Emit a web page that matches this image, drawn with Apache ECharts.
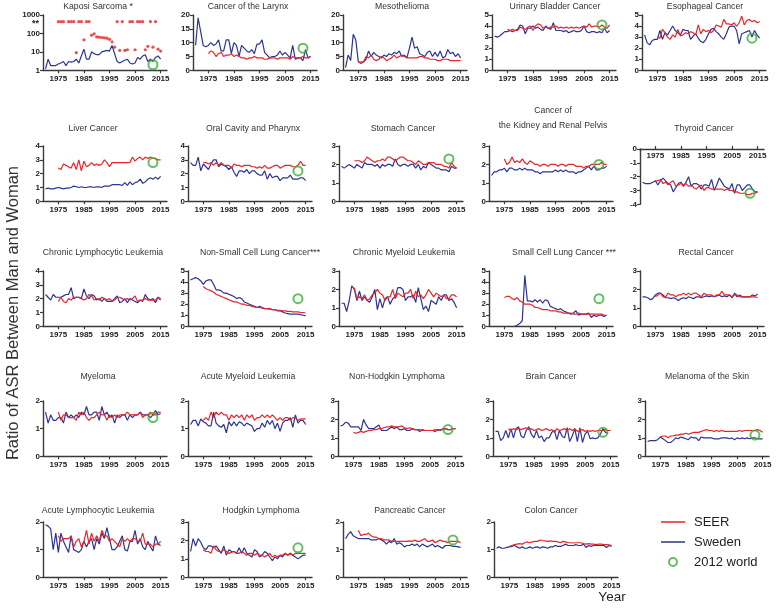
<!DOCTYPE html>
<html><head><meta charset="utf-8">
<script src="https://cdn.jsdelivr.net/npm/echarts@6/dist/echarts.min.js"></script>
<style>html,body{margin:0;padding:0;background:#fff}#c{width:778px;height:608px}</style>
</head><body><div id="c"></div>
<script>
// ---------- DATA ----------
const yearsSweden = [1970,1971,1972,1973,1974,1975,1976,1977,1978,1979,1980,1981,1982,1983,1984,1985,1986,1987,1988,1989,1990,1991,1992,1993,1994,1995,1996,1997,1998,1999,2000,2001,2002,2003,2004,2005,2006,2007,2008,2009,2010,2011,2012,2013,2014,2015];
const yearsSeer = [1975,1976,1977,1978,1979,1980,1981,1982,1983,1984,1985,1986,1987,1988,1989,1990,1991,1992,1993,1994,1995,1996,1997,1998,1999,2000,2001,2002,2003,2004,2005,2006,2007,2008,2009,2010,2011,2012,2013,2014,2015];
const worldYear = 2012;
const xTickYears = [1975,1985,1995,2005,2015];
const STAR = 437; // level at which the "**" (off-scale) values are plotted

const kaposiSweden = [1.2,4,1.8,1.8,1.8,2.2,2.5,3,1.8,3, 2.8,3,4,2.5,6,14,4,4,10,8, 7,7,10,11,12,11,22,8,3,2.5, 3,3.5,4,2.5,2.2,2.5,5,4,6,7, 3,4,3,5,6,4];
const kaposiSeer = [STAR,STAR,STAR,null,STAR,STAR,STAR,9,STAR,STAR, 45,STAR,STAR,80,95,65,63,60,58,55, 48,35,18,STAR,12,STAR,12,13,STAR,STAR, 13,STAR,STAR,STAR,13,20,STAR,18,STAR,14, 11];
const larynxSweden = [9,19,14,9,8.5,9,10,9,9.5,11, 7,7,11,11,6,10,9,5,9,8, 7,6.5,7.5,6,9.5,9.5,11,6.5,5.5,4.5, 5,5,5.5,7,5.5,6.5,5.5,4.5,9,4, 4.5,4.5,3.5,7.5,4.5,5];
const larynxSeer = [6,7,6.5,5,6,6.5,5,5.5,5.5,6, 5,5.5,5,4.5,4.5,4,4.5,4.5,5,4.5, 4.5,4.5,4,4,4.5,4.5,4.5,4,4.5,4.5, 4.5,4.5,4,5,4.5,4.5,4.5,5,4.5,4.5, 5];
const mesoSweden = [1,5.5,3.5,13,11,3,3,3,4,7, 5,6.5,5.5,5,4.5,5.5,5,6,5.5,6.5, 6,7,5,5.5,4.5,8,12,8,8.5,6, 5.5,5,6.5,7,5,6.5,5,7,4.5,5, 7.5,6,6.5,5,6,4.5];
const mesoSeer = [3,2.5,3,5,4.5,5.5,4,3.5,4,5, 4.5,3.5,4,4.5,5.5,4.5,5,5.5,5,4.5, 4.5,4.5,4.5,4.5,5,5,4.5,4.5,4,4, 4,3.5,3.5,4,4,4,3.5,3.5,3.5,3.5, 3.5];
const bladderSweden = [3.1,3.0,3.1,3.3,3.5,3.5,3.6,3.5,3.6,3.7, 4.1,4.0,3.3,3.8,3.8,4.0,3.8,3.9,3.7,3.6, 4.0,3.8,3.7,4.3,3.6,3.6,3.6,3.5,3.6,3.4, 3.5,3.6,3.5,3.5,3.6,4.0,3.5,3.4,3.5,3.5, 3.4,3.5,3.4,3.8,3.4,3.6];
const bladderSeer = [3.7,3.6,3.7,3.6,3.6,3.9,3.8,3.7,3.9,4.0, 3.6,4.0,4.2,4.1,3.8,3.9,3.8,3.9,3.9,4.0, 3.8,3.9,3.8,3.9,3.8,3.9,3.8,3.9,3.8,3.9, 4.0,3.9,4.2,3.9,4.0,4.0,3.9,4.1,3.9,3.8, 4.1];
const esophSweden = [3.2,2.5,2.3,2.7,2.8,2.8,3.6,2.8,3.4,3.2, 3.6,4.0,3.6,3.4,3.2,3.7,3.6,3.6,2.8,3.1, 3.3,2.9,2.6,2.5,2.8,3.3,3.7,3.8,3.5,3.3, 3.0,2.8,3.3,3.9,4.0,4.0,3.6,2.4,3.3,3.4, 3.5,3.6,3.0,3.6,3.2,2.9];
const esophSeer = [3.0,2.9,3.7,3.4,3.0,2.8,3.2,3.0,3.7,3.1, 3.2,3.4,3.3,3.5,3.4,3.2,4.1,3.3,3.7,3.5, 3.6,3.4,3.6,4.1,4.0,3.9,4.6,4.2,4.2,4.1, 4.3,4.0,4.3,4.9,4.1,4.5,4.6,4.4,4.5,4.3, 4.4];
const liverSweden = [0.9,0.95,0.9,0.9,0.95,1.0,0.95,0.9,0.95,0.95, 1.0,1.1,1.05,1.0,1.05,1.0,1.0,1.05,1.05,1.0, 1.05,1.05,1.0,1.1,1.1,1.1,1.2,1.2,1.2,1.2, 1.15,1.35,1.15,1.4,1.2,1.35,1.4,1.6,1.3,1.4, 1.6,1.7,1.6,1.75,1.6,1.8];
const liverSeer = [2.4,2.3,2.7,2.6,2.5,2.4,2.8,2.3,3.0,2.2, 2.9,2.5,2.6,2.8,2.6,2.7,2.6,2.7,3.0,2.8, 2.5,2.8,2.8,2.8,2.8,2.8,2.8,2.8,2.8,3.2, 2.9,3.1,3.2,3.0,3.2,3.1,3.2,3.1,3.1,3.0, 3.0];
const oralSweden = [2.8,2.6,2.6,3.2,2.2,2.7,2.5,2.3,2.7,3.0, 3.0,2.5,2.7,2.6,2.5,2.3,2.5,2.1,1.8,2.2, 2.2,2.1,2.3,2.0,2.2,2.2,2.0,1.9,1.9,2.2, 1.6,2.0,1.7,1.8,1.8,1.5,1.7,1.7,1.7,1.9, 1.6,1.6,1.6,1.7,1.7,1.5];
const oralSeer = [2.8,2.8,2.7,2.8,2.6,2.8,2.6,2.8,2.6,2.6, 2.6,2.4,2.7,2.6,2.6,2.5,2.6,2.6,2.6,2.5, 2.5,2.4,2.5,2.4,2.6,2.4,2.4,2.5,2.6,2.6, 2.4,2.5,2.6,2.6,2.6,2.5,2.5,2.6,2.9,2.6, 2.6];
const stomachSweden = [1.9,1.8,1.9,2.0,1.9,1.8,2.0,1.9,1.8,2.1, 2.0,2.0,2.0,1.9,2.0,1.8,2.0,1.9,2.0,2.0, 1.9,2.3,2.0,1.9,2.0,2.0,1.9,2.0,2.0,1.8, 2.0,1.7,1.9,1.8,2.1,2.0,1.9,1.8,1.8,1.7, 1.7,1.7,1.6,1.9,1.8,1.8];
const stomachSeer = [2.2,2.2,2.2,2.1,2.2,2.4,2.3,2.2,2.1,2.2, 2.2,2.3,2.2,2.4,2.4,2.3,2.2,2.3,2.4,2.4, 2.3,2.2,2.2,2.1,2.0,2.2,2.1,2.0,2.0,2.1, 2.1,2.1,2.0,2.0,2.0,1.9,1.9,1.8,2.1,1.9, 1.8];
const kidneySweden = [1.4,1.6,1.6,1.7,1.7,1.8,1.6,1.8,1.8,1.7, 1.7,1.8,1.7,1.8,1.7,1.7,1.7,1.6,1.6,1.5, 1.6,1.6,1.6,1.6,1.6,1.7,1.6,1.7,1.6,1.7, 1.6,1.6,1.6,1.5,1.6,1.6,1.7,1.8,1.9,1.7, 1.9,1.7,1.7,1.8,1.8,1.9];
const kidneySeer = [2.3,2.0,2.1,2.4,2.1,2.2,2.1,2.3,2.1,2.0, 2.2,2.1,2.0,2.0,1.9,2.0,2.0,1.9,2.0,2.0, 2.0,1.9,2.0,2.0,1.9,2.0,2.0,2.0,1.9,1.9, 1.9,1.8,1.9,1.9,2.0,2.0,2.0,2.0,2.1,2.0, 2.0];
const thyroidSweden = [-2.4,-2.5,-2.5,-2.5,-2.4,-2.3,-2.6,-2.3,-2.1,-2.3, -2.5,-2.6,-3.1,-2.8,-2.5,-2.4,-2.7,-2.4,-2.0,-2.7, -2.5,-2.5,-2.6,-2.9,-2.6,-2.6,-2.7,-2.2,-3.0,-2.6, -2.1,-2.4,-2.7,-2.8,-2.9,-2.5,-3.2,-2.6,-2.6,-3.0, -2.8,-2.6,-2.6,-2.9,-3.1,-3.1];
const thyroidSeer = [-2.3,-2.3,-2.2,-2.5,-2.4,-2.6,-2.4,-2.3,-2.7,-2.6, -2.5,-2.6,-2.5,-2.7,-2.6,-2.8,-2.9,-2.7,-2.6,-3.0, -2.8,-2.8,-2.9,-2.9,-2.9,-2.9,-2.9,-3.0,-2.9,-3.0, -3.0,-3.1,-3.1,-3.2,-3.2,-3.2,-3.3,-3.3,-3.2,-3.2, -3.1];
const cllSweden = [2.3,2.1,1.9,2.3,2.1,2.1,2.1,2.2,2.3,2.3, 2.8,2.0,2.1,2.1,2.0,2.7,2.2,2.0,2.3,2.2, 1.9,2.0,1.8,2.0,1.8,1.8,1.8,2.0,2.2,1.7, 1.8,2.0,1.7,2.0,1.9,1.8,1.7,1.9,1.8,2.3, 2.0,1.9,2.0,1.7,2.1,1.9];
const cllSeer = [1.8,2.1,1.8,1.7,2.0,1.9,2.1,2.1,2.1,2.0, 1.9,2.0,2.3,2.2,1.9,2.0,1.9,2.1,2.0,1.9, 2.0,1.8,1.9,2.1,2.1,2.0,1.9,2.0,1.9,2.0, 2.2,1.8,1.9,1.9,2.0,1.9,1.9,1.9,1.9,2.1, 2.0];
const nsclcSweden = [4.2,4.3,4.4,4.3,4.1,3.8,4.1,4.2,4.2,3.8, 3.3,3.3,3.2,3.0,3.0,2.9,2.8,2.7,2.5,2.6, 2.5,2.2,2.1,2.0,1.9,1.8,1.7,1.8,1.7,1.6, 1.6,1.6,1.5,1.5,1.4,1.4,1.3,1.2,1.15,1.1, 1.1,1.1,1.1,1.05,1.0,0.95];
const nsclcSeer = [3.6,3.4,3.3,3.2,3.1,2.9,2.8,2.7,2.6,2.5, 2.4,2.3,2.2,2.2,2.1,2.0,2.0,1.9,1.9,1.8, 1.75,1.7,1.7,1.65,1.6,1.6,1.55,1.5,1.5,1.45, 1.45,1.4,1.4,1.35,1.35,1.3,1.3,1.3,1.25,1.25, 1.2];
const cmlSweden = [1.25,1.25,0.8,1.4,2.2,2.0,1.4,1.9,1.4,1.6, 1.4,1.3,1.6,2.0,0.9,1.5,1.0,1.5,1.6,1.2, 1.5,1.6,2.1,2.1,2.0,1.4,1.6,1.6,1.7,1.3, 2.1,1.5,0.9,1.1,0.8,1.4,1.3,1.2,1.6,1.4, 1.7,1.7,1.4,1.5,1.3,1.0];
const cmlSeer = [2.1,1.5,1.6,1.5,1.7,1.4,1.5,1.7,1.8,2.0, 1.8,1.7,1.4,1.6,1.6,2.0,1.5,1.8,1.7,1.6, 1.8,1.8,2.0,1.5,1.9,1.6,1.7,1.5,1.7,2.0, 1.8,1.6,1.8,1.7,1.6,1.7,1.5,1.5,1.7,1.7, 1.6];
const sclcSweden = [null,null,null,null,null,null,null,null,null,0, 0.1,0.25,0.5,4.6,2.3,2.3,2.2,2.4,2.2,2.4, 2.1,2.4,2.3,1.8,1.7,1.6,1.5,1.6,1.4,1.3, 1.2,1.1,1.2,1.4,1.0,1.1,1.1,1.1,1.2,0.8, 1.0,0.9,1.0,1.0,0.9,1.0];
const sclcSeer = [2.6,2.7,2.7,2.5,2.4,2.6,2.3,2.2,2.0,2.0, 2.0,1.9,1.7,1.7,1.6,1.5,1.5,1.5,1.4,1.4, 1.4,1.3,1.3,1.2,1.2,1.2,1.2,1.1,1.1,1.2, 1.1,1.1,1.1,1.1,1.1,1.1,1.1,1.1,1.1,1.0, 1.0];
const rectalSweden = [1.6,1.6,1.55,1.45,1.5,1.7,1.8,1.8,1.7,1.55, 1.55,1.5,1.55,1.5,1.4,1.5,1.55,1.5,1.6,1.55, 1.5,1.6,1.6,1.55,1.6,1.65,1.6,1.65,1.6,1.65, 1.7,1.6,1.65,1.6,1.7,1.55,1.8,1.6,1.7,1.6, 1.6,1.6,1.6,1.7,1.65,1.75];
const rectalSeer = [1.6,1.7,1.8,1.6,1.6,1.8,1.7,1.7,1.6,1.7, 1.7,1.8,1.7,1.8,1.7,1.8,1.8,1.7,1.6,1.8, 1.7,1.7,1.7,1.6,1.7,1.7,1.9,1.7,1.7,1.7, 1.6,1.7,1.7,1.6,1.6,1.6,1.6,1.6,1.6,1.6, 1.55];
const myelomaSweden = [1.6,1.2,1.5,1.3,1.3,1.4,1.4,1.2,1.6,1.4, 1.5,1.4,1.5,1.4,1.6,1.5,1.8,1.5,1.5,1.6, 1.6,1.3,1.8,1.5,1.6,1.4,1.5,1.2,1.5,1.4, 1.5,1.5,1.3,1.5,1.4,1.5,1.5,1.6,1.5,1.5, 1.5,1.4,1.5,1.65,1.5,1.55];
const myelomaSeer = [1.6,1.3,1.5,1.5,1.4,1.4,1.4,1.3,1.6,1.5, 1.6,1.4,1.3,1.4,1.4,1.5,1.6,1.5,1.5,1.3, 1.5,1.4,1.5,1.4,1.5,1.5,1.5,1.6,1.5,1.5, 1.5,1.5,1.6,1.4,1.5,1.5,1.6,1.5,1.5,1.6, 1.6];
const amlSweden = [1.15,1.3,1.3,1.1,1.35,1.25,1.2,1.1,1.1,1.6, 1.2,1.1,1.05,1.15,0.85,1.25,1.1,1.25,1.1,1.25, 1.2,1.1,1.2,1.15,1.1,0.9,1.0,1.0,1.2,1.05, 1.3,1.15,1.3,1.0,1.2,0.9,1.2,1.3,1.3,1.4, 1.05,1.5,1.2,1.3,1.3,1.15];
const amlSeer = [1.3,1.4,1.3,1.6,1.4,1.6,1.5,1.6,1.5,1.5, 1.3,1.5,1.4,1.5,1.4,1.5,1.3,1.5,1.4,1.5, 1.3,1.4,1.4,1.5,1.4,1.5,1.4,1.5,1.4,1.3, 1.4,1.3,1.4,1.4,1.3,1.4,1.4,1.3,1.35,1.35, 1.35];
const nhlSweden = [1.65,1.7,1.85,1.8,1.6,1.6,1.6,1.6,1.4,2.0, 1.7,1.5,1.5,1.5,1.6,1.7,1.4,1.4,1.4,1.5, 1.6,1.5,1.6,1.45,1.45,1.5,1.4,1.4,1.5,1.45, 1.45,1.35,1.45,1.4,1.4,1.4,1.4,1.35,1.45,1.4, 1.5,1.5,1.45,1.45,1.5,1.5];
const nhlSeer = [1.3,1.25,1.3,1.35,1.3,1.35,1.4,1.4,1.45,1.45, 1.5,1.5,1.55,1.6,1.6,1.65,1.6,1.6,1.6,1.65, 1.55,1.5,1.55,1.5,1.45,1.45,1.45,1.4,1.4,1.4, 1.4,1.4,1.45,1.4,1.45,1.45,1.5,1.45,1.45,1.5, 1.5];
const brainSweden = [1.35,1.35,0.85,1.0,1.4,1.0,1.5,1.0,1.5,1.6, 1.1,1.0,1.4,1.6,1.2,1.0,1.4,1.0,1.1,0.8, 1.0,1.0,1.3,1.4,0.9,1.4,1.1,1.0,1.55,0.8, 1.1,1.5,0.8,1.55,0.75,1.2,1.35,0.95,1.0,0.95, 1.0,1.2,1.5,1.3,1.25,null];
const brainSeer = [1.5,1.4,1.5,1.45,1.5,1.45,1.5,1.55,1.45,1.5, 1.4,1.45,1.5,1.4,1.45,1.5,1.4,1.45,1.3,1.5, 1.4,1.45,1.5,1.4,1.5,1.4,1.5,1.35,1.4,1.45, 1.35,1.4,1.35,1.4,1.35,1.4,1.4,1.4,1.45,1.4, 1.4];
const melanomaSweden = [0.8,0.85,0.85,0.85,0.9,1.05,0.95,0.85,0.75,0.75, 0.85,1.0,0.95,1.05,1.0,0.95,0.9,1.05,1.0,1.0, 0.85,1.05,1.0,1.0,1.0,1.0,0.95,0.95,0.95,1.0, 1.0,1.0,0.95,1.0,0.9,1.0,0.95,1.0,0.95,1.0, 0.95,1.0,1.0,0.95,0.95,0.95];
const melanomaSeer = [1.05,1.1,1.1,1.0,1.1,1.1,1.15,1.15,1.2,1.2, 1.25,1.2,1.25,1.3,1.3,1.3,1.35,1.4,1.45,1.4, 1.4,1.35,1.4,1.35,1.4,1.35,1.35,1.35,1.35,1.35, 1.35,1.4,1.35,1.4,1.4,1.4,1.4,1.4,1.45,1.4, 1.3];
const allSweden = [1.9,1.85,1.75,1.0,1.6,0.9,1.6,1.3,1.1,0.9, 1.5,1.0,0.95,0.9,1.0,1.3,1.1,1.3,1.4,1.0, 1.4,1.2,1.6,1.4,1.8,1.4,1.0,1.0,1.1,1.3, 1.5,1.0,0.95,1.3,1.3,1.7,1.2,1.4,1.1,1.0, 1.3,1.1,0.95,1.5,1.2,1.15];
const allSeer = [1.5,1.3,1.4,1.4,1.4,1.5,1.1,1.3,1.4,1.1, 1.3,1.7,1.2,1.6,1.3,1.5,1.3,1.7,1.5,1.5, 1.3,1.4,1.3,1.2,1.1,1.4,1.3,1.4,1.3,1.4, 1.4,1.3,1.3,1.6,1.2,1.2,1.2,1.1,1.2,1.2, 1.3];
const hodgkinSweden = [1.4,2.1,1.7,2.1,1.9,1.6,1.5,1.7,1.7,1.6, 1.7,1.5,1.3,1.7,1.2,1.5,1.4,1.4,1.3,1.6, 1.3,1.6,1.3,1.2,1.1,1.5,1.4,1.1,1.2,1.4, 1.3,1.1,0.9,1.1,1.0,1.2,1.1,1.3,1.2,1.3, 1.2,1.1,1.0,1.1,1.2,1.2];
const hodgkinSeer = [1.5,1.4,1.4,1.3,1.7,1.5,1.4,1.4,1.5,1.4, 1.3,1.35,1.4,1.3,1.3,1.4,1.3,1.2,1.3,1.3, 1.2,1.3,1.2,1.2,1.1,1.2,1.3,1.1,1.2,1.1, 1.2,1.2,1.3,1.2,1.3,1.2,1.3,1.3,1.3,1.3, 1.3];
const pancSweden = [1.4,1.55,1.65,1.5,1.45,1.4,1.4,1.4,1.4,1.4, 1.35,1.35,1.35,1.4,1.35,1.3,1.2,1.3,1.25,1.4, 1.2,1.25,1.2,1.1,1.15,1.15,1.2,1.15,1.2,1.1, 1.2,1.15,1.1,1.15,1.2,1.1,1.15,1.1,1.05,1.15, 1.15,1.15,1.12,1.12,1.1,1.08];
const pancSeer = [1.7,1.5,1.55,1.55,1.6,1.5,1.45,1.45,1.4,1.4, 1.35,1.35,1.35,1.3,1.3,1.3,1.3,1.3,1.3,1.3, 1.32,1.3,1.35,1.3,1.3,1.35,1.4,1.3,1.3,1.35, 1.25,1.3,1.35,1.3,1.3,1.25,1.3,1.3,1.3,1.3, 1.25];
const colonSweden = [1.05,1.1,1.05,1.05,1.08,1.1,1.12,1.15,1.1,1.05, 1.1,1.05,1.05,1.1,1.05,1.08,1.1,1.05,1.1,1.08, 1.05,1.1,1.1,1.15,1.12,1.12,1.15,1.2,1.15,1.15, 1.15,1.18,1.15,1.15,1.2,1.08,1.15,1.12,1.15,1.15, 1.15,1.15,1.15,1.08,1.15,1.12];
const colonSeer = [1.12,1.15,1.18,1.2,1.22,1.2,1.25,1.28,1.25,1.28, 1.3,1.3,1.35,1.33,1.32,1.3,1.32,1.3,1.3,1.28, 1.25,1.3,1.28,1.25,1.25,1.24,1.25,1.25,1.25,1.22, 1.2,1.22,1.2,1.2,1.18,1.2,1.2,1.18,1.18,1.17, 1.15];

const titles = ['Kaposi Sarcoma *','Cancer of the Larynx','Mesothelioma','Urinary Bladder Cancer','Esophageal Cancer',
  'Liver Cancer','Oral Cavity and Pharynx','Stomach Cancer','Cancer of\nthe Kidney and Renal Pelvis','Thyroid Cancer',
  'Chronic Lymphocytic Leukemia','Non-Small Cell Lung Cancer***','Chronic Myeloid Leukemia','Small Cell Lung Cancer ***','Rectal Cancer',
  'Myeloma','Acute Myeloid Leukemia','Non-Hodgkin Lymphoma','Brain Cancer','Melanoma of the Skin',
  'Acute Lymphocytic Leukemia','Hodgkin Lymphoma','Pancreatic Cancer','Colon Cancer'];
const swedenSets = [kaposiSweden,larynxSweden,mesoSweden,bladderSweden,esophSweden, liverSweden,oralSweden,stomachSweden,kidneySweden,thyroidSweden, cllSweden,nsclcSweden,cmlSweden,sclcSweden,rectalSweden, myelomaSweden,amlSweden,nhlSweden,brainSweden,melanomaSweden, allSweden,hodgkinSweden,pancSweden,colonSweden];
const seerSets = [kaposiSeer,larynxSeer,mesoSeer,bladderSeer,esophSeer, liverSeer,oralSeer,stomachSeer,kidneySeer,thyroidSeer, cllSeer,nsclcSeer,cmlSeer,sclcSeer,rectalSeer, myelomaSeer,amlSeer,nhlSeer,brainSeer,melanomaSeer, allSeer,hodgkinSeer,pancSeer,colonSeer];
const world2012 = [2,8,null,4.1,2.9, 2.8,2.2,2.3,2.0,-3.2, null,2.5,null,2.5,null, 1.4,null,1.45,1.3,1.15, null,1.6,1.35,null];
const yMins = [1,0,0,0,0, 0,0,0,0,-4, 0,0,0,0,0, 0,0,0,0,0, 0,0,0,0];
const yMaxs = [1000,20,20,5,5, 4,4,3,3,0, 4,5,3,5,3, 2,2,3,3,3, 2,3,2,2];
const yIntervals = [null,5,5,1,1, 1,1,1,1,1, 1,1,1,1,1, 1,1,1,1,1, 1,1,1,1];

// ---------- LAYOUT ----------
const FONT = '"Liberation Sans", Arial, Helvetica, sans-serif';
const RED = '#e5262b', NAVY = '#2e3490', GREEN = '#3fae3a', AX = '#3a3a3a';
const rowTops = [15, 146, 271, 401, 522];
const rowLefts = [[43,193,343,492,642],[43,188,339,489,640],[43,188,339,489,640],[43,188,338,493,645],[43,188,343,494]];
const titleYs = [6.5, 128.3, 253, 376.7, 510.5];
const titleDx = [55,55,59,63,63, 50,65,64,64,64, 60,72,65,75,66, 55,60,59,58,62, 55,73,67,57];
const PW = 124, PH = 55.3;
const XMIN = 1969, XMAX = 2017.5;
const LINE_ICON = 'path://M0,0L0.01,0L0,0.01ZM0,4.3L24,4.3L24,5.7L0,5.7ZM24,10L23.99,10L24,9.99Z';
const CIRCLE_ICON = 'path://M0,0M24,10M16,5A4,4,0,1,1,8,5A4,4,0,1,1,16,5Z';

function pairs(xs, ys){ const out=[]; xs.forEach((x,i)=>{ if(ys[i]!==null && ys[i]!==undefined) out.push([x,ys[i]]); }); return out; }
const plain = v => String(v);

const grids=[], xAxes=[], yAxes=[], titleOpts=[];
const swSeries=[], seerLines=[], seerDots=[], worldSeries=[];
titles.forEach((t,i)=>{
  const row = Math.floor(i/5), col = i%5;
  const isThy = (i===9), isLog = (i===0);
  const left = rowLefts[row][col];
  const top = isThy ? 149 : rowTops[row];
  grids.push({left:left, top:top, width:PW, height:PH, containLabel:false});
  xAxes.push({type:'value', gridIndex:i, min:XMIN, max:XMAX, position: isThy?'top':'bottom',
    axisLine:{show:true,onZero:false,lineStyle:{color:AX,width:1.4}},
    axisTick:{show:true,length:3,customValues:xTickYears,lineStyle:{color:AX,width:1.2}},
    axisLabel:{customValues:xTickYears,inside:isThy,formatter:plain,fontSize:8,fontWeight:'bold',color:'#222',margin:isThy?3:4,fontFamily:FONT},
    splitLine:{show:false}});
  const ya = {type:isLog?'log':'value', gridIndex:i, min:yMins[i], max:yMaxs[i],
    axisLine:{show:true,onZero:false,lineStyle:{color:AX,width:1.4}},
    axisTick:{show:true,length:3,lineStyle:{color:AX,width:1.2}},
    axisLabel:{formatter:plain,fontSize:8,fontWeight:'bold',color:'#222',margin:3,fontFamily:FONT},
    splitLine:{show:false}};
  if(isLog){ ya.logBase=10; } else { ya.interval=yIntervals[i]; }
  yAxes.push(ya);
  const two = t.indexOf('\n')>=0;
  titleOpts.push({text:t, left:left+titleDx[i], top:two? 102.5 : titleYs[row]-5, textAlign:'center', padding:0,
    textStyle:{fontSize:8.7,fontWeight:'normal',color:'#333',fontFamily:FONT,lineHeight:two?15.5:10}});
  swSeries.push({type:'line',name:'Sweden',xAxisIndex:i,yAxisIndex:i,data:pairs(yearsSweden,swedenSets[i]),
    symbol:'none',lineStyle:{color:NAVY,width:1.2},itemStyle:{color:NAVY},silent:true});
  if(isLog){
    seerDots.push({type:'scatter',name:'SEER',xAxisIndex:i,yAxisIndex:i,data:pairs(yearsSeer,seerSets[i]),
      symbol:'circle',symbolSize:3.2,itemStyle:{color:RED},silent:true});
  } else {
    seerLines.push({type:'line',name:'SEER',xAxisIndex:i,yAxisIndex:i,data:pairs(yearsSeer,seerSets[i]),
      symbol:'none',lineStyle:{color:RED,width:1.2},itemStyle:{color:RED},silent:true});
  }
  if(world2012[i]!==null){
    worldSeries.push({type:'scatter',name:'2012 world',xAxisIndex:i,yAxisIndex:i,data:[[worldYear,world2012[i]]],
      symbol:'circle',symbolSize:9,itemStyle:{color:'rgba(255,255,255,0)',borderColor:GREEN,borderWidth:2},silent:true,z:5});
  }
});

const chart = echarts.init(document.getElementById('c'), null, {renderer:'canvas'});
chart.setOption({
  animation:false,
  backgroundColor:'#fff',
  textStyle:{fontFamily:FONT},
  title:titleOpts,
  grid:grids, xAxis:xAxes, yAxis:yAxes,
  legend:{orient:'vertical', left:660, top:514, padding:0, itemWidth:24, itemHeight:10, itemGap:4, selectedMode:false,
    textStyle:{fontSize:13,color:'#222',fontFamily:FONT,lineHeight:16,padding:[0,0,0,4]},
    data:[{name:'SEER',icon:LINE_ICON,itemStyle:{color:RED,borderWidth:0}},
      {name:'Sweden',icon:LINE_ICON,itemStyle:{color:NAVY,borderWidth:0}},
      {name:'2012 world',icon:CIRCLE_ICON,itemStyle:{color:'rgba(255,255,255,0)',borderColor:GREEN,borderWidth:2}}]},
  series:[...swSeries, ...seerLines, ...seerDots, ...worldSeries]
});

// "**" label on the Kaposi log axis, placed through the axis scale
const starPt = chart.convertToPixel({xAxisIndex:0, yAxisIndex:0}, [XMIN, STAR]);
chart.setOption({graphic:[
  {type:'text', x:13, y:313, rotation:Math.PI/2,
    style:{text:'Ratio of ASR Between Man and Woman', fontSize:16.5, fill:'#333', fontFamily:FONT, textAlign:'center', textVerticalAlign:'middle'}},
  {type:'text', x:612, y:597,
    style:{text:'Year', fontSize:13.5, fill:'#222', fontFamily:FONT, textAlign:'center', textVerticalAlign:'middle'}},
  {type:'text', x:starPt[0]-4, y:starPt[1]+2,
    style:{text:'**', fontSize:9, fontWeight:'bold', fill:'#222', fontFamily:FONT, textAlign:'right', textVerticalAlign:'middle'}}
]});
</script>
</body></html>
